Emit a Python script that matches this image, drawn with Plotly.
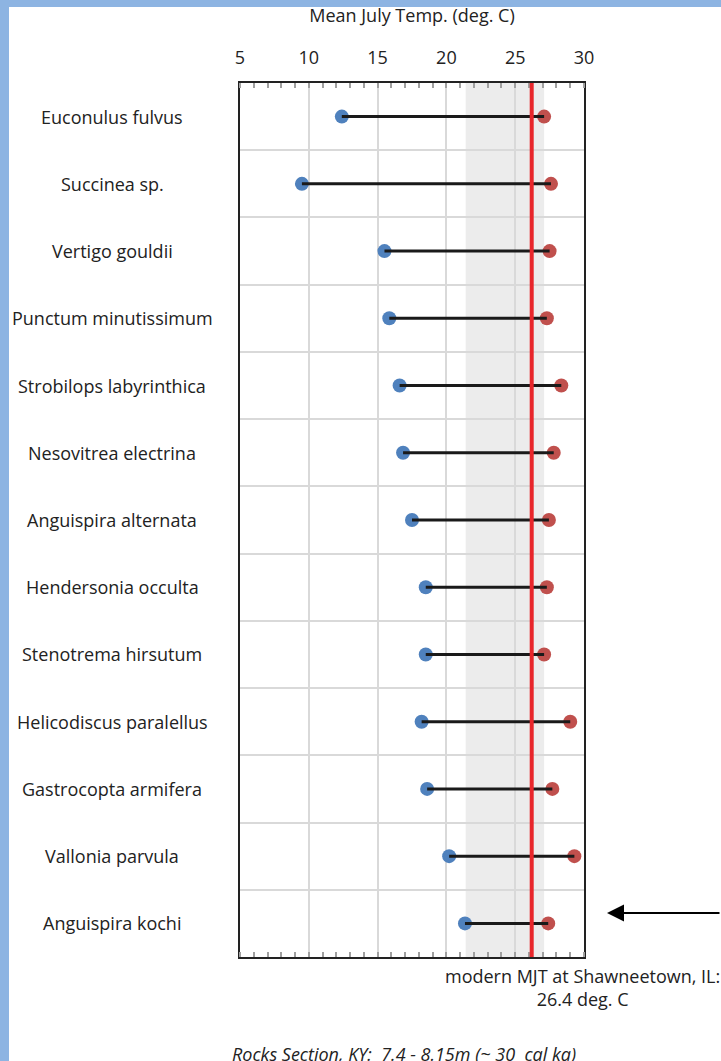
import plotly.graph_objects as go

# ---------------- data ----------------
species = ["Euconulus fulvus", "Succinea sp.", "Vertigo gouldii", "Punctum minutissimum",
           "Strobilops labyrinthica", "Nesovitrea electrina", "Anguispira alternata",
           "Hendersonia occulta", "Stenotrema hirsutum", "Helicodiscus paralellus",
           "Gastrocopta armifera", "Vallonia parvula", "Anguispira kochi"]
mjt_min = [12.4, 9.5, 15.5, 15.85, 16.6, 16.85, 17.5, 18.5, 18.5, 18.2, 18.6, 20.2, 21.35]
mjt_max = [27.1, 27.6, 27.5, 27.3, 28.35, 27.8, 27.45, 27.3, 27.1, 29.0, 27.7, 29.3, 27.4]
modern_mjt = 26.2
modern_label = "modern MJT at Shawneetown, IL:<br>26.4 deg. C"
overlap_band = [21.4, 27.1]
x_ticks = [5, 10, 15, 20, 25, 30]
x_range = [5, 30]
footer = "Rocks Section, KY:  7.4 - 8.15m (~ 30  cal ka)"

# ---------------- geometry ----------------
W, H = 721, 1061
ML, MR, MT, MB = 240, 137, 83, 104
PW, PH = W - ML - MR, H - MT - MB


def px(x):
    return (x - ML) / PW


def py(y):
    return (H - MB - y) / PH


FONT = "Open Sans"
FS = 18
TXT = "#222"
BLUE = "#4f81bd"
RED = "#c0504d"

fig = go.Figure()
fig.add_trace(go.Scatter(x=mjt_min, y=species, mode="markers",
                         marker=dict(size=14, color=BLUE), showlegend=False))
fig.add_trace(go.Scatter(x=mjt_max, y=species, mode="markers",
                         marker=dict(size=14, color=RED), showlegend=False))
lx, ly = [], []
for s, a, b in zip(species, mjt_min, mjt_max):
    lx += [a, b, None]
    ly += [s, s, None]
fig.add_trace(go.Scatter(x=lx, y=ly, mode="lines",
                         line=dict(color="#1a1a1a", width=3), showlegend=False))

shapes = [
    dict(type="rect", xref="x", yref="paper", x0=overlap_band[0], x1=overlap_band[1],
         y0=0, y1=1, fillcolor="#ececec", line=dict(width=0), layer="below"),
    dict(type="line", xref="x", yref="paper", x0=modern_mjt, x1=modern_mjt,
         y0=0, y1=1, line=dict(color="#e8262b", width=4), layer="above"),
    # page border (blue frame)
    dict(type="rect", xref="paper", yref="paper", x0=px(0), x1=px(9), y0=py(H), y1=py(0),
         fillcolor="#8db4e2", line=dict(width=0), layer="above"),
    dict(type="rect", xref="paper", yref="paper", x0=px(0), x1=px(W), y0=py(7), y1=py(0),
         fillcolor="#8db4e2", line=dict(width=0), layer="above"),
]

annotations = []
for s in species:
    annotations.append(dict(x=px(112), xref="paper", y=s, yref="y", text=s,
                            showarrow=False, xanchor="center", yanchor="middle",
                            font=dict(family=FONT, size=FS, color=TXT)))
annotations.append(dict(x=px(582), y=py(987), xref="paper", yref="paper", text=modern_label,
                        showarrow=False, xanchor="center", yanchor="middle", align="center",
                        font=dict(family=FONT, size=FS, color=TXT)))
annotations.append(dict(x=px(404), y=py(1054), xref="paper", yref="paper",
                        text="<i>" + footer + "</i>", showarrow=False,
                        xanchor="center", yanchor="middle",
                        font=dict(family=FONT, size=FS, color=TXT)))
annotations.append(dict(x=px(607), y=py(913), xref="paper", yref="paper", text="",
                        showarrow=True, ax=130, ay=0, arrowhead=2, arrowsize=1.7,
                        arrowwidth=2, arrowcolor="#000"))

fig.update_layout(
    width=W, height=H,
    margin=dict(l=ML, r=MR, t=MT, b=MB, pad=0),
    paper_bgcolor="white", plot_bgcolor="white",
    font=dict(family=FONT, size=FS, color=TXT),
    shapes=shapes, annotations=annotations,
    xaxis=dict(range=x_range, side="top", tickvals=x_ticks, ticks="",
               ticklabelstandoff=10,
               showgrid=True, gridcolor="#d9d9d9", gridwidth=2, zeroline=False,
               showline=True, linecolor="#222", linewidth=1.5, mirror="ticks",
               minor=dict(ticks="inside", dtick=1, ticklen=5, tickwidth=1.5,
                          tickcolor="#a0a0a0", showgrid=False),
               tickfont=dict(family=FONT, size=FS, color=TXT),
               title=dict(text="Mean July Temp. (deg. C)", standoff=18,
                          font=dict(family=FONT, size=FS, color=TXT))),
    yaxis=dict(type="category", categoryarray=species, categoryorder="array",
               range=[len(species) - 0.5, -0.5], tickson="boundaries",
               showticklabels=False, ticks="", showgrid=True, gridcolor="#d9d9d9",
               gridwidth=2, zeroline=False, showline=True, linecolor="#222",
               linewidth=1.5, mirror=True),
)

fig.write_html("out.html", config={"displayModeBar": False},
               post_script="document.body.style.margin='0';")
